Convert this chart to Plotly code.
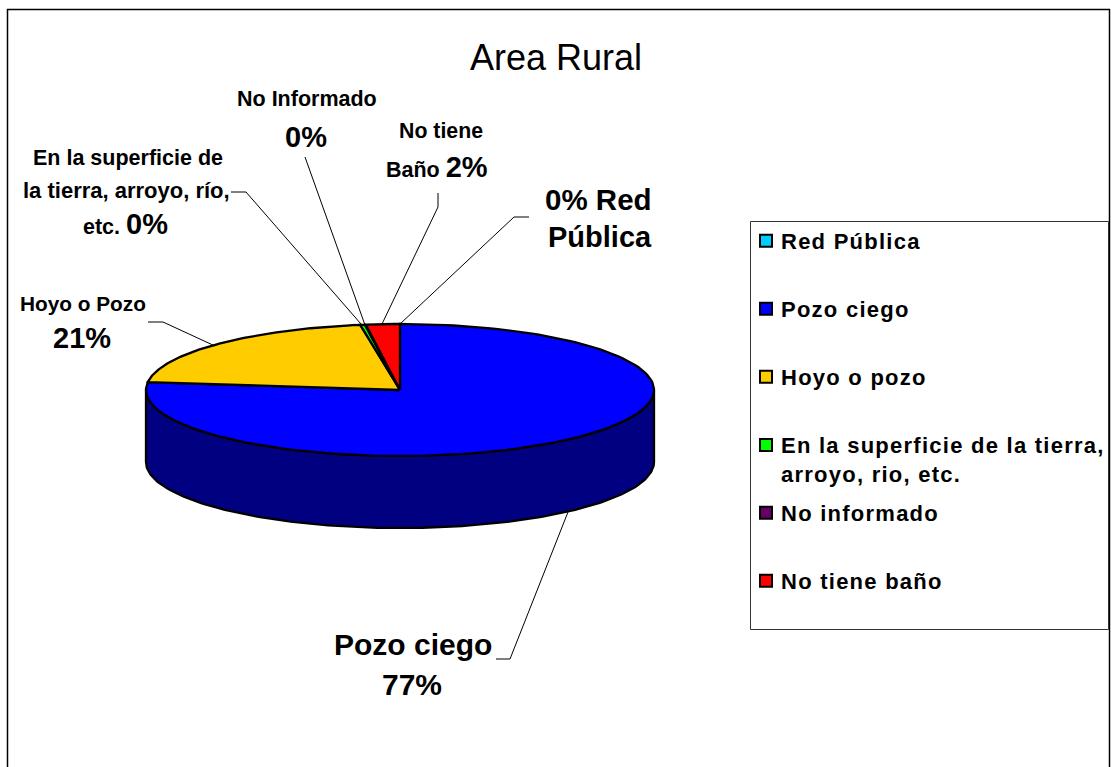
import numpy as np
import plotly.graph_objects as go

# ---- data ----
categories = ["Red Pública", "Pozo ciego", "Hoyo o pozo",
              "En la superficie de la tierra,<br>arroyo, rio, etc.",
              "No informado", "No tiene baño"]
values = [0.0, 76.9, 20.6, 0.3, 0.05, 2.15]
top_colors = ["#00CCFF", "#0000FF", "#FFCC00", "#00FF00", "#660066", "#FF0000"]
side_colors = ["#006680", "#000080", "#806600", "#008000", "#330033", "#800000"]
title_text = "Area Rural"

# label lines: (text, x, y, size)
label_lines = [
    ("No Informado", 307, 99, 21.5),
    ("0%", 306, 137, 29),
    ("En la superficie de", 128, 158, 21.5),
    ("la tierra, arroyo, río,", 126, 190, 22),
    ("etc. <span style='font-size:29px'>0%</span>", 125, 224, 21.5),
    ("Hoyo o Pozo", 83, 303, 20.8),
    ("21%", 82, 338, 29),
    ("No tiene", 441, 131, 21.3),
    ("Baño <span style='font-size:29px'>2%</span>", 437, 167, 21.5),
    ("0% Red", 598, 199, 29.5),
    ("Pública", 600, 237, 29),
    ("Pozo ciego", 413, 644, 30),
    ("77%", 412, 684, 30),
]
# leader lines, one list per label
leaders = [
    [(305, 157), (365, 325)],
    [(231, 192), (246, 192), (361, 324)],
    [(148, 322), (163, 322), (215, 346)],
    [(438, 193), (438, 207), (382, 324)],
    [(529, 217), (514, 217), (400, 324)],
    [(496, 659), (510, 659), (568, 512)],
]
legend_rows = [241, 309, 377, 445, 513, 581]

# ---- geometry of the drawing ----
W, H = 1111, 767
CX, CY, RX, RY, DEPTH = 400, 390, 254, 66, 72
FONT = "Liberation Sans"
EDGE = 2.3


def pt(theta_deg, dy=0):
    t = np.radians(theta_deg)
    return CX + RX * np.sin(t), CY - RY * np.cos(t) + dy


fig = go.Figure()
total = sum(values)
edges = np.cumsum([0] + values) / total * 360

# side walls (front half of the ellipse only)
for i, c in enumerate(categories):
    a, b = max(edges[i], 90), min(edges[i + 1], 270)
    if b <= a:
        continue
    th = np.linspace(a, b, 160)
    xt, yt = pt(th)
    xb, yb = pt(th[::-1], DEPTH)
    fig.add_trace(go.Scatter(
        x=np.r_[xt, xb, xt[0]], y=np.r_[yt, yb, yt[0]], mode="lines", fill="toself",
        fillcolor=side_colors[i], line=dict(color="black", width=EDGE),
        showlegend=False, hoverinfo="skip"))

# top faces
for i, c in enumerate(categories):
    th = np.linspace(edges[i], edges[i + 1], 160)
    xt, yt = pt(th)
    fig.add_trace(go.Scatter(
        x=np.r_[CX, xt, CX], y=np.r_[CY, yt, CY], mode="lines", fill="toself",
        fillcolor=top_colors[i], line=dict(color="black", width=EDGE),
        showlegend=False, name=c.replace("<br>", " "),
        text=f"{values[i]:.0f}%", hoverinfo="name+text"))

# leader lines
for seg in leaders:
    fig.add_trace(go.Scatter(
        x=[p[0] for p in seg], y=[p[1] for p in seg], mode="lines",
        line=dict(color="black", width=1), showlegend=False, hoverinfo="skip"))

# legend: one small legend per row so the row pitch can match the reference
layout_legends = {}
text_selectors = []
for i, c in enumerate(categories):
    key = "legend" if i == 0 else f"legend{i + 1}"
    text_selectors.append(f".{key}text")
    fig.add_trace(go.Scatter(
        x=[None], y=[None], mode="markers", name=c, legend=key,
        marker=dict(symbol="square", size=12, color=top_colors[i],
                    line=dict(color="black", width=2))))
    layout_legends[key] = dict(
        x=741 / W, xanchor="left", y=1 - (legend_rows[i] - 21) / H, yanchor="top",
        bgcolor="rgba(0,0,0,0)", borderwidth=0, tracegroupgap=0,
        font=dict(family=FONT, size=22, color="black", weight="bold"))

annotations = [dict(
    text=t, x=x, y=y, xref="x", yref="y", xanchor="center", yanchor="middle",
    showarrow=False, font=dict(family=FONT, size=s, color="black", weight="bold"))
    for t, x, y, s in label_lines]

shapes = [
    dict(type="rect", x0=7.5, x1=1109.5, y0=9.5, y1=790, xref="x", yref="y",
         line=dict(color="black", width=1.5), layer="below"),
    dict(type="rect", x0=750.5, x1=1108.5, y0=221.5, y1=629.5, xref="x", yref="y",
         line=dict(color="#333333", width=1), layer="below"),
]

fig.update_layout(
    width=W, height=H, margin=dict(l=0, r=0, t=0, b=0),
    paper_bgcolor="white", plot_bgcolor="white",
    title=dict(text=title_text, x=556 / W, xanchor="center", y=1 - 57 / H, yanchor="middle",
               font=dict(family=FONT, size=36, color="black")),
    xaxis=dict(range=[0, W], visible=False, fixedrange=True),
    yaxis=dict(range=[H, 0], visible=False, fixedrange=True),
    annotations=annotations, shapes=shapes, showlegend=True, **layout_legends)

css = (",".join(text_selectors) + "{letter-spacing:1.25px;}"
       ".scrollbox{clip-path:none !important;}"
       ".legendsymbols{transform:translate(5px,0);}"
       ".legend4 .legendsymbols{transform:translate(5px,-14px);}")

fig.write_html("out.html", config=dict(displayModeBar=False), post_script=(
    "document.body.style.margin='0';"
    "var s=document.createElement('style');"
    f"s.textContent='{css}';"
    "document.head.appendChild(s);"
))
